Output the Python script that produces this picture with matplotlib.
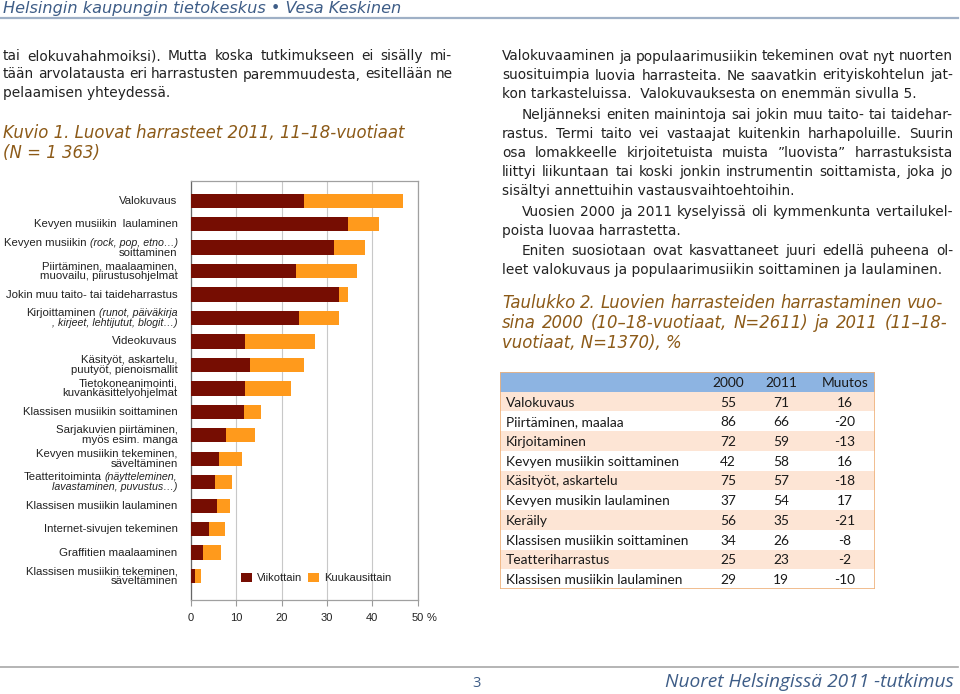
import matplotlib
matplotlib.use("Agg")
import matplotlib.pyplot as plt
from matplotlib.lines import Line2D
from matplotlib.patches import Rectangle
import numpy as np

# ---------------- data ----------------
categories = [
    "Valokuvaus",
    "Kevyen musiikin  laulaminen",
    "Kevyen musiikin _(rock, pop, etno…)_\nsoittaminen",
    "Piirtäminen, maalaaminen,\nmuovailu, piirustusohjelmat",
    "Jokin muu taito- tai taideharrastus",
    "Kirjoittaminen _(runot, päiväkirja_\n_, kirjeet, lehtijutut, blogit…)_",
    "Videokuvaus",
    "Käsityöt, askartelu,\npuutyöt, pienoismallit",
    "Tietokoneanimointi,\nkuvankäsittelyohjelmat",
    "Klassisen musiikin soittaminen",
    "Sarjakuvien piirtäminen,\nmyös esim. manga",
    "Kevyen musiikin tekeminen,\nsäveltäminen",
    "Teatteritoiminta _(näytteleminen,_\n_lavastaminen, puvustus…)_",
    "Klassisen musiikin laulaminen",
    "Internet-sivujen tekeminen",
    "Graffitien maalaaminen",
    "Klassisen musiikin tekeminen,\nsäveltäminen",
]
weekly = [25.0, 34.6, 31.5, 23.3, 32.6, 23.9, 12.0, 13.1, 12.0, 11.7, 7.7, 6.3, 5.4, 5.9, 4.0, 2.8, 0.9]
monthly = [21.7, 6.9, 6.8, 13.3, 2.0, 8.8, 15.4, 11.9, 10.0, 3.7, 6.5, 4.9, 3.8, 2.8, 3.6, 3.9, 1.4]
series_names = ["Viikottain", "Kuukausittain"]
x_ticks = [0, 10, 20, 30, 40, 50]
x_ticklabels = ["0", "10", "20", "30", "40", "50"]

table_header = ["", "2000", "2011", "Muutos"]
table_rows = ["Valokuvaus", "Piirtäminen, maalaa", "Kirjoitaminen",
              "Kevyen musiikin soittaminen", "Käsityöt, askartelu",
              "Kevyen musikin laulaminen", "Keräily",
              "Klassisen musiikin soittaminen", "Teatteriharrastus",
              "Klassisen musiikin laulaminen"]
val_2000 = [55, 86, 72, 42, 75, 37, 56, 34, 25, 29]
val_2011 = [71, 66, 59, 58, 57, 54, 35, 26, 23, 19]
muutos = [16, -20, -13, 16, -18, 17, -21, -8, -2, -10]

# ---------------- style ----------------
DARK = "#760d02"
ORANGE = "#ff9a1c"
BROWN = "#8c5a18"
BLUEGRAY = "#3e5d87"
TXT = "#222222"

W, H = 960, 694
fig = plt.figure(figsize=(9.6, 6.94), dpi=100)
fig.patch.set_facecolor("white")
renderer = fig.canvas.get_renderer()


def fx(x):
    return x / W


def fy(y):
    return 1 - y / H


def text_width(s, **kw):
    t = fig.text(0, 0, s, **kw)
    w = t.get_window_extent(renderer).width
    t.remove()
    return w


def fit_size(s, target, size0=10, **kw):
    return size0 * target / text_width(s, fontsize=size0, **kw)


def put_line(s, x0, yb, x1=None, **kw):
    if x1 is None:
        fig.text(fx(x0), fy(yb), s, va="baseline", ha="left", **kw)
        return
    words = [w for w in s.split(" ") if w]
    widths = [text_width(w, **kw) for w in words]
    gap = (x1 - x0 - sum(widths)) / (len(words) - 1)
    x = x0
    for w, wd in zip(words, widths):
        fig.text(fx(x), fy(yb), w, va="baseline", ha="left", **kw)
        x += wd + gap


# ---------------- header / footer ----------------
hdr = "Helsingin kaupungin tietokeskus • Vesa Keskinen"
hkw = dict(family="DejaVu Sans", style="italic", color=BLUEGRAY)
put_line(hdr, 3, 13, fontsize=11.6, **hkw)
fig.add_artist(Line2D([0, 958 / W], [fy(17.5), fy(17.5)], color="#9fb0c6", lw=1.6))

fig.add_artist(Line2D([0, 958 / W], [fy(667), fy(667)], color="#a8a8a8", lw=1.2))
ftr = "Nuoret Helsingissä 2011 -tutkimus"
okw = dict(family="Open Sans", style="italic", color=BLUEGRAY)
fs = fit_size(ftr, 289, **okw)
put_line(ftr, 665, 687, fontsize=fs, **okw)
put_line("3", 472, 687, fontsize=10.5, family="Open Sans", color=BLUEGRAY)

# ---------------- body text ----------------
body_kw = dict(family="DejaVu Sans", color=TXT)
bsz = fit_size("leet valokuvaus ja populaarimusiikin soittaminen ja laulaminen.", 440, **body_kw)
body_kw["fontsize"] = bsz

put_line("tai elokuvahahmoiksi). Mutta koska tutkimukseen ei sisälly mi-", 3, 60, 452, **body_kw)
put_line("tään arvolatausta eri harrastusten paremmuudesta, esitellään ne", 3, 78.5, 453, **body_kw)
put_line("pelaamisen yhteydessä.", 3, 97, **body_kw)

R0, R1, RI = 502, 953, 522
right_lines = [
    ("Valokuvaaminen ja populaarimusiikin tekeminen ovat nyt nuorten", R0, 60.5, True),
    ("suosituimpia luovia harrasteita. Ne saavatkin erityiskohtelun jat-", R0, 79.5, True),
    ("kon tarkasteluissa.  Valokuvauksesta on enemmän sivulla 5.", R0, 98.5, False),
    ("Neljänneksi eniten mainintoja sai jokin muu taito- tai taidehar-", RI, 119, True),
    ("rastus. Termi taito vei vastaajat kuitenkin harhapoluille. Suurin", R0, 138, True),
    ("osa lomakkeelle kirjoitetuista muista \u201dluovista\u201d harrastuksista", R0, 157, True),
    ("liittyi liikuntaan tai koski jonkin instrumentin soittamista, joka jo", R0, 176, True),
    ("sisältyi annettuihin vastausvaihtoehtoihin.", R0, 195, False),
    ("Vuosien 2000 ja 2011 kyselyissä oli kymmenkunta vertailukel-", RI, 216, True),
    ("poista luovaa harrastetta.", R0, 235, False),
    ("Eniten suosiotaan ovat kasvattaneet juuri edellä puheena ol-", RI, 255, True),
    ("leet valokuvaus ja populaarimusiikin soittaminen ja laulaminen.", R0, 274, False),
]
for s, x0, yb, just in right_lines:
    put_line(s, x0, yb, R1 if just else None, **body_kw)

# ---------------- titles ----------------
tkw = dict(family="DejaVu Sans", style="italic", color=BROWN)
tsz = fit_size("Kuvio 1. Luovat harrasteet 2011, 11–18-vuotiaat", 402, **tkw)
tkw["fontsize"] = tsz
put_line("Kuvio 1. Luovat harrasteet 2011, 11–18-vuotiaat", 3, 138.5, **tkw)
put_line("(N = 1 363)", 3, 158.5, **tkw)

put_line("Taulukko 2. Luovien harrasteiden harrastaminen vuo-", 502, 308.5, 943, **tkw)
put_line("sina 2000 (10–18-vuotiaat, N=2611) ja 2011 (11–18-", 502, 328.5, 947, **tkw)
put_line("vuotiaat, N=1370), %", 502, 348.5, **tkw)

# ---------------- bar chart ----------------
ax_l, ax_r, ax_t, ax_b = 190.7, 417.7, 181, 600
ax = fig.add_axes([fx(ax_l), fy(ax_b), (ax_r - ax_l) / W, (ax_b - ax_t) / H])
y = np.arange(len(categories))
b1 = ax.barh(y, weekly, height=0.61, color=DARK, zorder=3)
b2 = ax.barh(y, monthly, left=weekly, height=0.61, color=ORANGE, zorder=3)
ax.set_xlim(0, 50)
ax.set_ylim(17.02, -0.84)
ax.set_yticks([])
ax.set_xticks(x_ticks)
ax.set_xticklabels(x_ticklabels, family="Liberation Sans", fontsize=8, color=TXT)
ax.tick_params(axis="x", length=4, color="#9a9a9a", pad=5.5)
ax.grid(axis="x", color="#c8c8c8", lw=0.8, zorder=0)
ax.set_axisbelow(True)
for sp in ["top", "right", "bottom"]:
    ax.spines[sp].set_color("#a0a0a0")
    ax.spines[sp].set_linewidth(0.9)
ax.spines["left"].set_color("#666666")
ax.spines["left"].set_linewidth(0.9)
ax.annotate("%", xy=(50, 0), xycoords=("data", "axes fraction"),
            xytext=(6.5, -9.5), textcoords="offset points", ha="left", va="top",
            family="Liberation Sans", fontsize=8, color=TXT)

leg = ax.legend([b1, b2], series_names, loc="center left",
                bbox_to_anchor=((241 - ax_l) / (ax_r - ax_l), (ax_b - 578) / (ax_b - ax_t)),
                ncol=2, frameon=False, borderpad=0, borderaxespad=0,
                handlelength=0.95, handleheight=0.95, handletextpad=0.45,
                columnspacing=0.6, prop=dict(family="Liberation Sans", size=8))
for t in leg.get_texts():
    t.set_color(TXT)

# category labels (right aligned, italic parts marked with _)
lab_kw = dict(family="Liberation Sans", color=TXT)
lsz = fit_size("Jokin muu taito- tai taideharrastus", 172, **lab_kw)
isz = lsz * 0.93
space_w = lsz / 10 * (text_width("a a", fontsize=10, **lab_kw) - text_width("aa", fontsize=10, **lab_kw))
LH = 10.0
XR = 177.5
for i, cat in enumerate(categories):
    lines = cat.split("\n")
    yc = ax.transData.transform((0, i))[1]
    n = len(lines)
    for k, line in enumerate(lines):
        yd = yc + (n - 1) / 2 * LH - k * LH
        parts = line.split("_")
        segs = [(p, j % 2 == 1) for j, p in enumerate(parts) if p]
        x = XR
        for seg, ital in reversed(segs):
            st = "italic" if ital else "normal"
            sz = isz if ital else lsz
            s = seg.strip(" ")
            trail = len(seg) - len(seg.rstrip(" "))
            x -= trail * space_w
            w = text_width(s, style=st, fontsize=sz, **lab_kw)
            x -= w
            fig.text(x / W, yd / H, s, ha="left", va="center", style=st, fontsize=sz, **lab_kw)

# ---------------- table ----------------
T_L, T_R, T_T, T_B = 500, 875, 372, 589
tax = fig.add_axes([fx(T_L), fy(T_B), (T_R - T_L) / W, (T_B - T_T) / H])
nrow = len(table_rows) + 1
tax.set_xlim(0, T_R - T_L)
tax.set_ylim(nrow, 0)
tax.axis("off")
tab_kw = dict(family="Lato", color="#1a1a1a")
tsz2 = fit_size("Klassisen musiikin soittaminen", 183, **tab_kw)
tab_kw["fontsize"] = tsz2
tax.add_patch(Rectangle((0, 0), T_R - T_L, 1, facecolor="#8db4e2", edgecolor="none"))
for r in range(len(table_rows)):
    fc = "#fde5d5" if r % 2 == 0 else "white"
    tax.add_patch(Rectangle((0, r + 1), T_R - T_L, 1, facecolor=fc, edgecolor="none"))
tax.add_patch(Rectangle((0, 0), T_R - T_L, nrow, facecolor="none", edgecolor="#efb27c", lw=1.2))
col_x = [6, 228, 281, 345]
for c, h in enumerate(table_header):
    if h:
        tax.text(col_x[c], 0.55, h, ha="center", va="center", **tab_kw)
for r in range(len(table_rows)):
    yy = r + 1.55
    tax.text(col_x[0], yy, table_rows[r], ha="left", va="center", **tab_kw)
    tax.text(col_x[1], yy, str(val_2000[r]), ha="center", va="center", **tab_kw)
    tax.text(col_x[2], yy, str(val_2011[r]), ha="center", va="center", **tab_kw)
    tax.text(col_x[3], yy, str(muutos[r]), ha="center", va="center", **tab_kw)

fig.savefig("out.png", dpi=100, facecolor="white")
